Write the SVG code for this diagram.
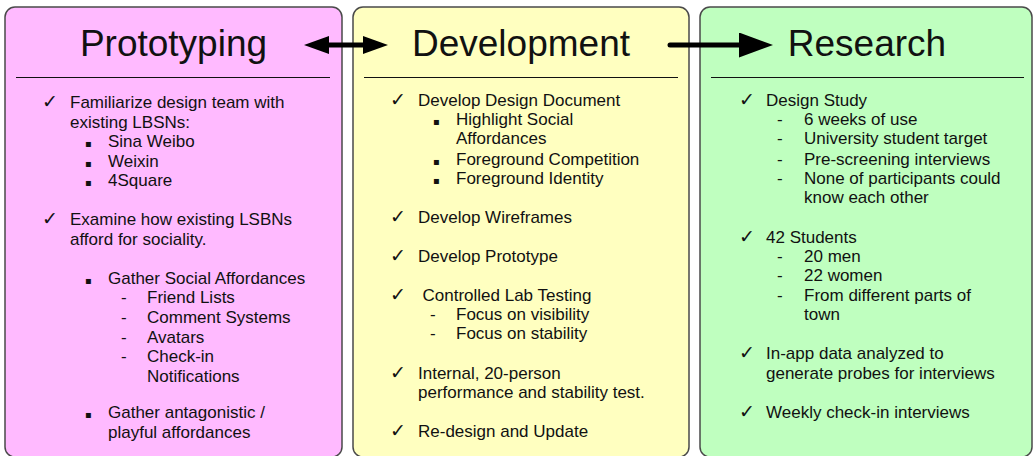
<svg xmlns="http://www.w3.org/2000/svg" width="1033" height="456" viewBox="0 0 1033 456">
  <style>
    .panel { stroke: #4a4a4a; stroke-width: 1.5; }
    .rule { stroke: #111; stroke-width: 1; }
    .title { font-family: "Liberation Sans", Arial, Helvetica, sans-serif; font-size: 37px; fill: #111; text-anchor: middle; }
    .item { font-family: "Liberation Sans", Arial, Helvetica, "DejaVu Sans", sans-serif; font-size: 17px; fill: #111; }
    .chk { font-family: "DejaVu Sans", sans-serif; font-size: 19px; fill: #111; }
    .sq { font-family: "DejaVu Sans", sans-serif; font-size: 10px; fill: #111; }
    .conn { stroke: #000; stroke-width: 5; fill: none; }
  </style>
  <defs>
    <marker id="headSmall" markerUnits="userSpaceOnUse" markerWidth="25" markerHeight="18" refX="5" refY="9" orient="auto-start-reverse">
      <path d="M0,0 L25,9 L0,18 z" fill="#000"/>
    </marker>
    <marker id="headLarge" markerUnits="userSpaceOnUse" markerWidth="34" markerHeight="25" refX="6" refY="12.5" orient="auto">
      <path d="M0,0 L34,12.5 L0,25 z" fill="#000"/>
    </marker>
  </defs>

  <!-- Prototyping -->
  <g id="prototyping">
    <rect class="panel" x="5" y="7" width="337" height="450" rx="10" fill="#FFBAFF"/>
    <text class="title" x="173.5" y="56">Prototyping</text>
    <line class="rule" x1="16" y1="77.5" x2="330" y2="77.5"/>
    <text class="chk" x="42" y="108">✓</text>
    <text class="item" x="70" y="108">Familiarize design team with</text>
    <text class="item" x="70" y="128">existing LBSNs:</text>
    <text class="sq" x="85" y="147">▪</text><text class="item" x="108" y="147">Sina Weibo</text>
    <text class="sq" x="85" y="167">▪</text><text class="item" x="108" y="167">Weixin</text>
    <text class="sq" x="85" y="186">▪</text><text class="item" x="108" y="186">4Square</text>
    <text class="chk" x="42" y="225">✓</text>
    <text class="item" x="70" y="225">Examine how existing LSBNs</text>
    <text class="item" x="70" y="245">afford for sociality.</text>
    <text class="sq" x="85" y="284">▪</text><text class="item" x="108" y="284">Gather Social Affordances</text>
    <text class="item" x="121" y="303">-</text><text class="item" x="147" y="303">Friend Lists</text>
    <text class="item" x="121" y="323">-</text><text class="item" x="147" y="323">Comment Systems</text>
    <text class="item" x="121" y="343">-</text><text class="item" x="147" y="343">Avatars</text>
    <text class="item" x="121" y="362">-</text><text class="item" x="147" y="362">Check-in</text>
    <text class="item" x="147" y="382">Notifications</text>
    <text class="sq" x="85" y="418">▪</text><text class="item" x="108" y="418">Gather antagonistic /</text>
    <text class="item" x="108" y="438">playful affordances</text>
  </g>

  <!-- Development -->
  <g id="development">
    <rect class="panel" x="353" y="7" width="336" height="450" rx="10" fill="#FFFFC0"/>
    <text class="title" x="521" y="56">Development</text>
    <line class="rule" x1="364" y1="77.5" x2="678" y2="77.5"/>
    <text class="chk" x="390" y="106">✓</text>
    <text class="item" x="418" y="106">Develop Design Document</text>
    <text class="sq" x="433" y="125">▪</text><text class="item" x="456" y="125">Highlight Social</text>
    <text class="item" x="456" y="144">Affordances</text>
    <text class="sq" x="433" y="165">▪</text><text class="item" x="456" y="165">Foreground Competition</text>
    <text class="sq" x="433" y="184">▪</text><text class="item" x="456" y="184">Foreground Identity</text>
    <text class="chk" x="390" y="223">✓</text>
    <text class="item" x="418" y="223">Develop Wireframes</text>
    <text class="chk" x="390" y="262">✓</text>
    <text class="item" x="418" y="262">Develop Prototype</text>
    <text class="chk" x="390" y="301">✓</text>
    <text class="item" x="422.5" y="301">Controlled Lab Testing</text>
    <text class="item" x="430" y="320">-</text><text class="item" x="456" y="320">Focus on visibility</text>
    <text class="item" x="430" y="339">-</text><text class="item" x="456" y="339">Focus on stability</text>
    <text class="chk" x="390" y="379">✓</text>
    <text class="item" x="418" y="379">Internal, 20-person</text>
    <text class="item" x="418" y="398">performance and stability test.</text>
    <text class="chk" x="390" y="437">✓</text>
    <text class="item" x="418" y="437">Re-design and Update</text>
  </g>

  <!-- Research -->
  <g id="research">
    <rect class="panel" x="700" y="7" width="332" height="450" rx="10" fill="#BFFFBF"/>
    <text class="title" x="867" y="56">Research</text>
    <line class="rule" x1="711" y1="77.5" x2="1024" y2="77.5"/>
    <text class="chk" x="739" y="106">✓</text>
    <text class="item" x="766" y="106">Design Study</text>
    <text class="item" x="777" y="125">-</text><text class="item" x="804" y="125">6 weeks of use</text>
    <text class="item" x="777" y="144">-</text><text class="item" x="804" y="144">University student target</text>
    <text class="item" x="777" y="165">-</text><text class="item" x="804" y="165">Pre-screening interviews</text>
    <text class="item" x="777" y="184">-</text><text class="item" x="804" y="184">None of participants could</text>
    <text class="item" x="804" y="203">know each other</text>
    <text class="chk" x="739" y="243">✓</text>
    <text class="item" x="766" y="243">42 Students</text>
    <text class="item" x="777" y="262">-</text><text class="item" x="804" y="262">20 men</text>
    <text class="item" x="777" y="281">-</text><text class="item" x="804" y="281">22 women</text>
    <text class="item" x="777" y="301">-</text><text class="item" x="804" y="301">From different parts of</text>
    <text class="item" x="804" y="320">town</text>
    <text class="chk" x="739" y="359">✓</text>
    <text class="item" x="766" y="359">In-app data analyzed to</text>
    <text class="item" x="766" y="379">generate probes for interviews</text>
    <text class="chk" x="739" y="418">✓</text>
    <text class="item" x="766" y="418">Weekly check-in interviews</text>
  </g>

  <!-- Connectors -->
  <g id="connectors">
    <path class="conn" d="M324,45 L368,45" marker-start="url(#headSmall)" marker-end="url(#headSmall)"/>
    <path class="conn" d="M670,45 L745,45" stroke-linecap="round" marker-end="url(#headLarge)"/>
  </g>
</svg>
